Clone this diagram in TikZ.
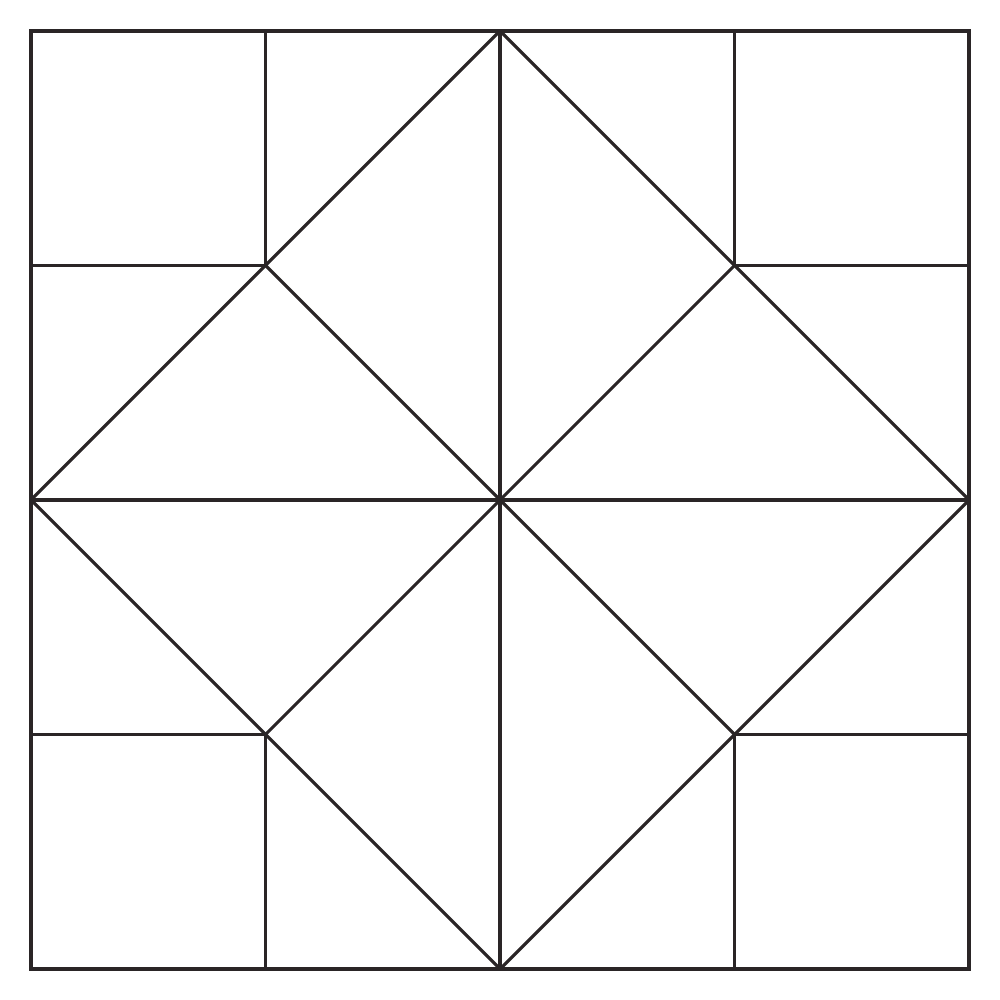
\documentclass[tikz,border=0pt]{standalone}
\usepackage{xcolor}
\definecolor{foldline}{HTML}{2A2526}
\tikzset{
  fold/.style={draw=foldline, line width=0.9pt, line cap=round, line join=round},
  rim/.style={draw=foldline, line width=1.15pt, line join=miter}
}
\begin{document}
\begin{tikzpicture}
    \useasboundingbox (0,0) rectangle (10,10);
    % Corners of the sheet
    \coordinate (sw) at (0.31,0.31);
    \coordinate (ne) at (9.69,9.69);
    \coordinate (c) at (5,5);
    % Edge midpoints
    \coordinate (n) at (5,9.69);
    \coordinate (s) at (5,0.31);
    \coordinate (w) at (0.31,5);
    \coordinate (e) at (9.69,5);
    % Inner corners
    \coordinate (inw) at (2.655,7.345);
    \coordinate (ine) at (7.345,7.345);
    \coordinate (isw) at (2.655,2.655);
    \coordinate (ise) at (7.345,2.655);
    % Folds
    \draw[fold] (n) -- (s) (w) -- (e);
    \draw[fold] (n) -- (e) -- (s) -- (w) -- cycle;
    \draw[fold] (inw) -- (ise) (ine) -- (isw);
    % Corner squares
    \draw[fold] (inw) -- (inw |- n) (inw) -- (inw -| w);
    \draw[fold] (ine) -- (ine |- n) (ine) -- (ine -| e);
    \draw[fold] (isw) -- (isw |- s) (isw) -- (isw -| w);
    \draw[fold] (ise) -- (ise |- s) (ise) -- (ise -| e);
    % Sheet
    \draw[rim] (sw) rectangle (ne);
\end{tikzpicture}
\end{document}
